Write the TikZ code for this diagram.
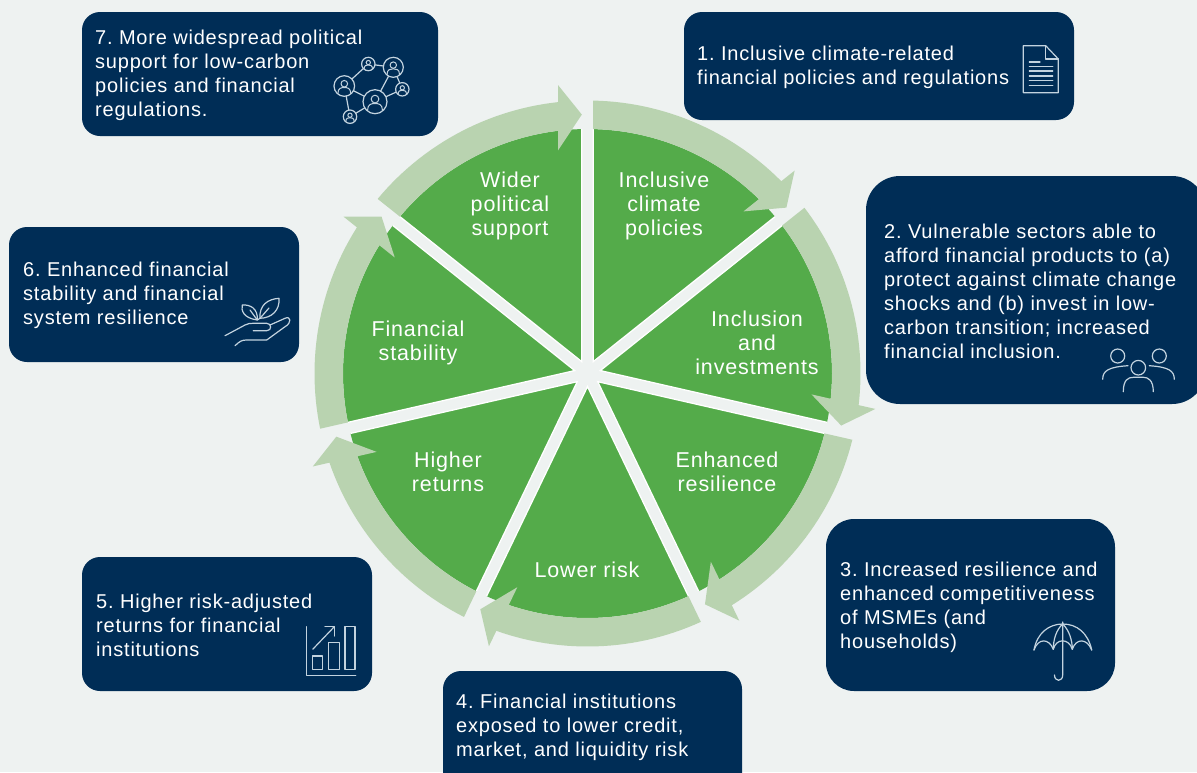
\documentclass[tikz,border=0pt]{standalone}
\usepackage{fontspec}
\setmainfont[LetterSpace=4]{Liberation Sans}
\definecolor{bgc}{HTML}{EEF2F1}
\definecolor{navy}{HTML}{002D56}
\definecolor{sect}{HTML}{54AB4A}
\definecolor{ringc}{HTML}{B9D3B0}
\definecolor{icon}{HTML}{C3D3DF}
\tikzset{
  navybox/.style={fill=navy},
  boxtext/.style={text=white,anchor=west,align=left,inner sep=0pt,font=\fontsize{20}{24}\selectfont\frenchspacing},
  wheeltext/.style={text=white,align=center,inner sep=0pt,font=\fontsize{21.5}{24}\selectfont\frenchspacing},
  iconline/.style={draw=icon,line width=1.2pt,line cap=round,line join=round,fill=none},
  disc/.style={draw=icon,line width=1.2pt,fill=navy}
}
\newcommand{\personicon}[3]{%
  \draw[disc] (#1,#2) circle[radius=#3];
  \draw[iconline,line width=1pt] (#1,#2-0.22*#3) circle[radius=0.32*#3];
  \draw[iconline,line width=1pt] (#1-0.62*#3,#2+0.72*#3) .. controls (#1-0.62*#3,#2+0.2*#3) and (#1-0.3*#3,#2+0.15*#3) .. (#1,#2+0.15*#3) .. controls (#1+0.3*#3,#2+0.15*#3) and (#1+0.62*#3,#2+0.2*#3) .. (#1+0.62*#3,#2+0.72*#3);
}
\begin{document}
\begin{tikzpicture}[x=1pt,y=-1pt]
\useasboundingbox (0,0) rectangle (1197,772);
\clip (0,0) rectangle (1197,772);
\fill[bgc] (0,0) rectangle (1197,772);
% wheel
\begin{scope}[shift={(587.5,373.5)}]
\foreach \i in {0,...,6}{
  \pgfmathsetmacro{\a}{-90+51.42857*\i}
  \pgfmathsetmacro{\b}{\a+51.42857}
  \pgfmathsetmacro{\m}{\a+25.71429}
  \pgfmathsetmacro{\sa}{\a+1.33}
  \pgfmathsetmacro{\sb}{\b-1.33}
  \fill[sect] (\m:13.1) -- plot[domain=\sa:\sb,samples=30] (\x:244.5) -- cycle;
  \draw[white,line width=1.3pt] (\sa:244.5) -- (\m:13.1) -- (\sb:244.5);
}
\foreach \i in {0,...,6}{
  \pgfmathsetmacro{\a}{-90+51.42857*\i}
  \pgfmathsetmacro{\b}{\a+51.42857}
  \pgfmathsetmacro{\so}{\a+1.19}
  \pgfmathsetmacro{\si}{\a+1.33}
  \pgfmathsetmacro{\t}{\b-1.26}
  \pgfmathsetmacro{\ho}{\t-4.94}
  \pgfmathsetmacro{\wo}{\t-4.58}
  \pgfmathsetmacro{\hi}{\t-5.67}
  \pgfmathsetmacro{\wi}{\t-6.27}
  \fill[ringc] (\so:273) -- plot[domain=\so:\ho,samples=30] (\x:273) -- (\wo:290) -- (\t:259) -- (\wi:225) -- (\hi:244.5) -- plot[domain=\hi:\si,samples=30] (\x:244.5) -- cycle;
}
\end{scope}
% boxes
\fill[navybox,rounded corners=18pt] (82,12) rectangle (438,136);
\fill[navybox,rounded corners=18pt] (684,12) rectangle (1074,120);
\fill[navybox,rounded corners=34pt] (866,176) rectangle (1206,404);
\fill[navybox,rounded corners=28pt] (826,519) rectangle (1115,691);
\fill[navybox,rounded corners=18pt] (443,671) rectangle (742,800);
\fill[navybox,rounded corners=18pt] (82,557) rectangle (372,691);
\fill[navybox,rounded corners=18pt] (9,227) rectangle (299,362);
% box text
\node[boxtext] (t7) at (95,75.5) {7. More widespread political\\support for low-carbon\\policies and financial\\regulations.};
\node[boxtext] (t1) at (697,67) {1. Inclusive climate-related\\financial policies and regulations};
\node[boxtext] (t2) at (884,291) {2. Vulnerable sectors able to\\afford financial products to (a)\\protect against climate change\\shocks and (b) invest in low-\\carbon transition; increased\\financial inclusion.};
\node[boxtext] (t3) at (840,607) {3. Increased resilience and\\enhanced competitiveness\\of MSMEs (and\\households)};
\node[boxtext] (t4) at (456,727) {4. Financial institutions\\exposed to lower credit,\\market, and liquidity risk};
\node[boxtext] (t5) at (96,625) {5. Higher risk-adjusted\\returns for financial\\institutions};
\node[boxtext] (t6) at (23,295) {6. Enhanced financial\\stability and financial\\system resilience};
% wheel text
\node[wheeltext] (w7) at (510,206) {Wider\\political\\support};
\node[wheeltext] (w1) at (664,206) {Inclusive\\climate\\policies};
\node[wheeltext] (w2) at (757,343) {Inclusion\\and\\investments};
\node[wheeltext] (w3) at (727,472) {Enhanced\\resilience};
\node[wheeltext] (w4) at (587,570) {Lower risk};
\node[wheeltext] (w5) at (448,472) {Higher\\returns};
\node[wheeltext] (w6) at (418,343) {Financial\\stability};
% network icon
\draw[iconline] (368.3,64)--(393.3,67.3)--(375,101.7)--(402.3,89.3)--(393.3,67.3);
\draw[iconline] (368.3,64)--(344.3,86)--(375,101.7)--(350,116.7)--(344.3,86);
\personicon{368.3}{64}{6.7}
\personicon{393.3}{67.3}{10}
\personicon{344.3}{86}{10.3}
\personicon{402.3}{89.3}{6.7}
\personicon{375}{101.7}{12}
\personicon{350}{116.7}{6.7}
% document icon
\draw[iconline] (1045.7,45.7)--(1023.3,45.7)--(1023.3,92.7)--(1058.3,92.7)--(1058.3,59)--cycle;
\draw[iconline] (1045.7,45.7)--(1045.7,59)--(1058.3,59);
\draw[iconline] (1029.3,62)--(1040,62);
\foreach \yy in {66.3,71,76,80.7,85.3}{\draw[iconline] (1029.3,\yy)--(1052.7,\yy);}
% people icon
\draw[iconline] (1117.7,356) circle[radius=7];
\draw[iconline] (1159.3,356) circle[radius=7];
\draw[iconline] (1138.3,367.7) circle[radius=7.3];
\draw[iconline] (1102.7,379.3) .. controls (1102.7,371) and (1108,367) .. (1128,365.7);
\draw[iconline] (1174.3,379.3) .. controls (1174.3,371) and (1169,367) .. (1149.3,365.7);
\draw[iconline] (1123.3,391.7) .. controls (1123.3,380) and (1128,377.3) .. (1133.3,377.3) -- (1143.3,377.3) .. controls (1148,377.3) and (1153.3,380) .. (1153.3,391.7);
% umbrella icon
\draw[iconline] (1034,650) .. controls (1037,633) and (1049,624) .. (1062.7,624) .. controls (1077,624) and (1088,633) .. (1091.7,650);
\draw[iconline] (1034,650) .. controls (1038,638) and (1049,638) .. (1053.3,649.3) .. controls (1056,638) and (1069,638) .. (1072.3,649.3) .. controls (1076,638) and (1087,638) .. (1091.7,650);
\draw[iconline] (1062.7,624) .. controls (1056,630) and (1053.3,640) .. (1053.3,649.3);
\draw[iconline] (1062.7,624) .. controls (1069,630) and (1072.3,640) .. (1072.3,649.3);
\draw[iconline] (1062.7,622)--(1062.7,675) .. controls (1062.7,682) and (1054.5,682) .. (1054.5,675);
% chart icon
\draw[iconline] (306.7,626.7)--(306.7,675.7)--(355.7,675.7);
\draw[iconline] (312.7,656) rectangle (322.7,669.3);
\draw[iconline] (328.3,642.7) rectangle (339.3,669.3);
\draw[iconline] (345,626.7) rectangle (355,669.3);
\draw[iconline] (312.7,649.3)--(334.3,626.7);
\draw[iconline] (325,626.7)--(334.3,626.7)--(334.3,636);
% hand icon
\draw[iconline] (225,335.7)--(245,325) .. controls (248,323.5) and (250,323.3) .. (253,323.3) -- (266.7,323.3) .. controls (272,323.3) and (272,330.7) .. (266.7,330.7) -- (253.3,330.7);
\draw[iconline] (270,325)--(285,318.3) .. controls (291,315.5) and (292,323) .. (285,326.7) -- (266.7,340) -- (246.7,340) .. controls (242,340) and (240,341) .. (235,345.7);
\draw[iconline] (257.3,320) .. controls (243,318) and (241,310) .. (242.3,305) .. controls (250,304.5) and (258,308) .. (257.3,320);
\draw[iconline] (250,310)--(257.3,320)--(260,318.3);
\draw[iconline] (260,318.3) .. controls (259,305) and (268,299) .. (279,298.3) .. controls (280,310) and (272,318) .. (260,318.3);
\draw[iconline] (260,318.3)--(269,308);
\end{tikzpicture}
\end{document}
